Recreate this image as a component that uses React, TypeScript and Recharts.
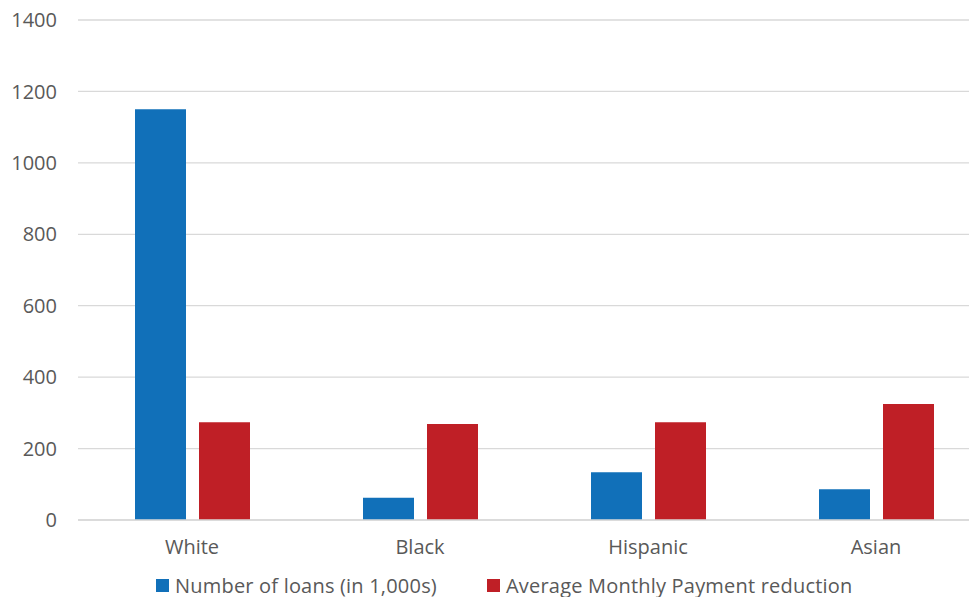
import { BarChart, Bar, XAxis, YAxis, CartesianGrid, Legend } from 'recharts'

const categories = ['White', 'Black', 'Hispanic', 'Asian']
const loans = [1150, 62, 134, 86]
const paymentReduction = [274, 269, 274, 325]
const yTicks = [0, 200, 400, 600, 800, 1000, 1200, 1400]

const BLUE = '#1170B9'
const RED = '#BF1F26'
const TEXT = '#595959'
const GRID = '#D9D9D9'
const FONT = '"Open Sans", sans-serif'

const data = categories.map((name, i) => ({
  name,
  loans: loans[i],
  reduction: paymentReduction[i],
}))

const LEGEND_ITEMS = [
  { label: 'Number of loans (in 1,000s)', color: BLUE, width: 331 },
  { label: 'Average Monthly Payment reduction', color: RED, width: 420 },
]

function LegendContent() {
  return (
    <div style={{ height: 37, boxSizing: 'border-box', paddingTop: 13, paddingLeft: 156, display: 'flex', alignItems: 'center', fontFamily: FONT, fontSize: 20, letterSpacing: 0.2, color: TEXT }}>
      {LEGEND_ITEMS.map((it) => (
        <div key={it.label} style={{ width: it.width, display: 'flex', alignItems: 'center' }}>
          <span style={{ width: 13, height: 13, background: it.color, marginRight: 6, flexShrink: 0 }} />
          <span style={{ whiteSpace: 'nowrap' }}>{it.label}</span>
        </div>
      ))}
    </div>
  )
}

export default function App() {
  const tick = { fontSize: 20, fill: TEXT, fontFamily: FONT }
  // shift over the body margin so chart coords == page coords
  return (
    <div style={{ position: 'relative', top: -8, left: -8, width: 977, height: 597, overflow: 'hidden' }}>
      <BarChart width={990} height={597} data={data} margin={{ top: 20, right: 0, left: 0, bottom: 0 }} barGap={13} barSize={51}>
        <CartesianGrid vertical={false} stroke={GRID} strokeWidth={1.3} />
        <XAxis
          dataKey="name"
          axisLine={{ stroke: GRID, strokeWidth: 1.3 }}
          tickLine={false}
          tickSize={0}
          tickMargin={20}
          height={40}
          tick={tick}
        />
        <YAxis
          domain={[0, 1400]}
          ticks={yTicks}
          axisLine={false}
          tickLine={false}
          tickSize={0}
          tickMargin={21}
          width={78}
          tick={tick}
        />
        <Legend verticalAlign="bottom" content={<LegendContent />} />
        <Bar dataKey="loans" name="Number of loans (in 1,000s)" fill={BLUE} isAnimationActive={false} />
        <Bar dataKey="reduction" name="Average Monthly Payment reduction" fill={RED} isAnimationActive={false} />
      </BarChart>
    </div>
  )
}
